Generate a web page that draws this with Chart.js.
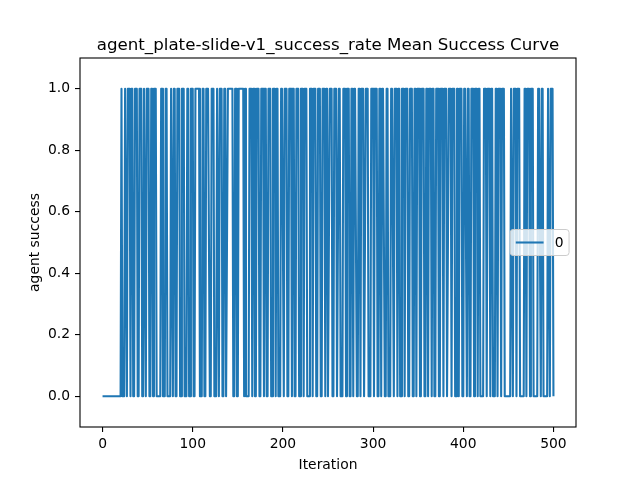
<!DOCTYPE html>
<html>
<head>
<meta charset="utf-8">
<script src="https://cdn.jsdelivr.net/npm/chart.js@4.4.1/dist/chart.umd.min.js"></script>
<style>
  html, body { margin: 0; padding: 0; background: #fff; }
  canvas { display: block; }
</style>
</head>
<body>
<canvas id="successChart" width="640" height="480"></canvas>
<script>
// values, iterations 0..500 (20 per chunk after the flat start)
const flatStart = '000000000000000000000';
const successChunks = [
  '10001101110110011100', '11100110111001101110', '00001100011000011011',
  '00111001110001100111', '00111110001100111100', '11100011011100110011',
  '11110011001111110100', '00111011001110011101', '10011100111011000111',
  '01110011101100111001', '11011100011101110011', '10011101100111001110',
  '01100011101110011011', '10011011100111000111', '01110011011100110001',
  '11011101100111011100', '11100110111001110011', '01110110011100111011',
  '10011101110011011100', '11101100111011101100', '00111011101100011011',
  '10111000000011011101', '11000001101110111000', '00111011000001101110'
];
const xTicks = [0, 100, 200, 300, 400, 500];
const yTicks = [0.0, 0.2, 0.4, 0.6, 0.8, 1.0];
const seriesLabel = '0';
const titleText = 'agent_plate-slide-v1_success_rate Mean Success Curve';
const xLabel = 'Iteration';
const yLabel = 'agent success';

const lineColor = '#1f77b4';
const FONT = '"DejaVu Sans", sans-serif';
const TICK_PX = 13.89;
const TITLE_PX = 16.67;

const successValues = (flatStart + successChunks.join('')).split('').map(Number);
const points = successValues.map((v, i) => ({ x: i, y: v }));

// frame, titles and legend drawn matplotlib-style
const decorPlugin = {
  id: 'decor',
  afterDraw(chart) {
    const { ctx, chartArea: a } = chart;
    ctx.save();
    ctx.strokeStyle = '#000';
    ctx.lineWidth = 1.1;
    ctx.strokeRect(a.left, a.top, a.right - a.left, a.bottom - a.top);

    const cx = (a.left + a.right) / 2;
    ctx.fillStyle = '#000';
    ctx.textAlign = 'center';
    ctx.textBaseline = 'alphabetic';
    ctx.font = `${TITLE_PX}px ${FONT}`;
    ctx.fillText(titleText, cx, a.top - 8.3);

    ctx.font = `${TICK_PX}px ${FONT}`;
    ctx.textBaseline = 'middle';
    ctx.fillText(xLabel, cx, 465);

    ctx.save();
    ctx.translate(35, (a.top + a.bottom) / 2);
    ctx.rotate(-Math.PI / 2);
    ctx.fillText(yLabel, 0, 0);
    ctx.restore();

    // legend box
    const pad = 0.4 * TICK_PX;
    const handle = 2 * TICK_PX;
    const gap = 0.8 * TICK_PX;
    const tw = ctx.measureText(seriesLabel).width;
    const bw = pad * 2 + handle + gap + tw;
    const bh = 26;
    const bx = a.right - 0.5 * TICK_PX - bw;
    const by = (a.top + a.bottom) / 2 - bh / 2;
    ctx.beginPath();
    ctx.roundRect(bx, by, bw, bh, 3);
    ctx.fillStyle = 'rgba(255,255,255,0.8)';
    ctx.fill();
    ctx.strokeStyle = '#cccccc';
    ctx.lineWidth = 1;
    ctx.stroke();

    const ly = by + bh / 2;
    ctx.beginPath();
    ctx.moveTo(bx + pad, ly);
    ctx.lineTo(bx + pad + handle, ly);
    ctx.strokeStyle = lineColor;
    ctx.lineWidth = 2.08;
    ctx.stroke();

    ctx.fillStyle = '#000';
    ctx.textAlign = 'left';
    ctx.fillText(seriesLabel, bx + pad + handle + gap, ly + 1);
    ctx.restore();
  }
};

const tickFont = { family: FONT, size: TICK_PX };

new Chart(document.getElementById('successChart').getContext('2d'), {
  type: 'line',
  data: {
    datasets: [{
      label: seriesLabel,
      data: points,
      borderColor: lineColor,
      borderWidth: 2.08,
      borderJoinStyle: 'round',
      pointRadius: 0,
      tension: 0,
      fill: false
    }]
  },
  options: {
    responsive: false,
    animation: false,
    devicePixelRatio: 1,
    parsing: false,
    layout: { padding: { left: 0, right: 64, top: 58, bottom: 0 } },
    plugins: {
      legend: { display: false },
      title: { display: false },
      tooltip: { enabled: false }
    },
    scales: {
      x: {
        type: 'linear',
        min: -25,
        max: 525,
        afterFit: s => { s.height = 53; },
        afterBuildTicks: s => { s.ticks = xTicks.map(v => ({ value: v })); },
        border: { display: false },
        grid: { drawOnChartArea: false, drawTicks: true, tickLength: 5, color: '#000', lineWidth: 1.1 },
        ticks: { color: '#000', font: tickFont, padding: 4, maxRotation: 0, autoSkip: false }
      },
      y: {
        type: 'linear',
        min: -0.1,
        max: 1.1,
        afterFit: s => { s.width = 80; },
        afterBuildTicks: s => { s.ticks = yTicks.map(v => ({ value: v })); },
        border: { display: false },
        grid: { drawOnChartArea: false, drawTicks: true, tickLength: 5, color: '#000', lineWidth: 1.1 },
        ticks: { color: '#000', font: tickFont, padding: 5, callback: v => v.toFixed(1) }
      }
    }
  },
  plugins: [decorPlugin]
});
</script>
</body>
</html>
